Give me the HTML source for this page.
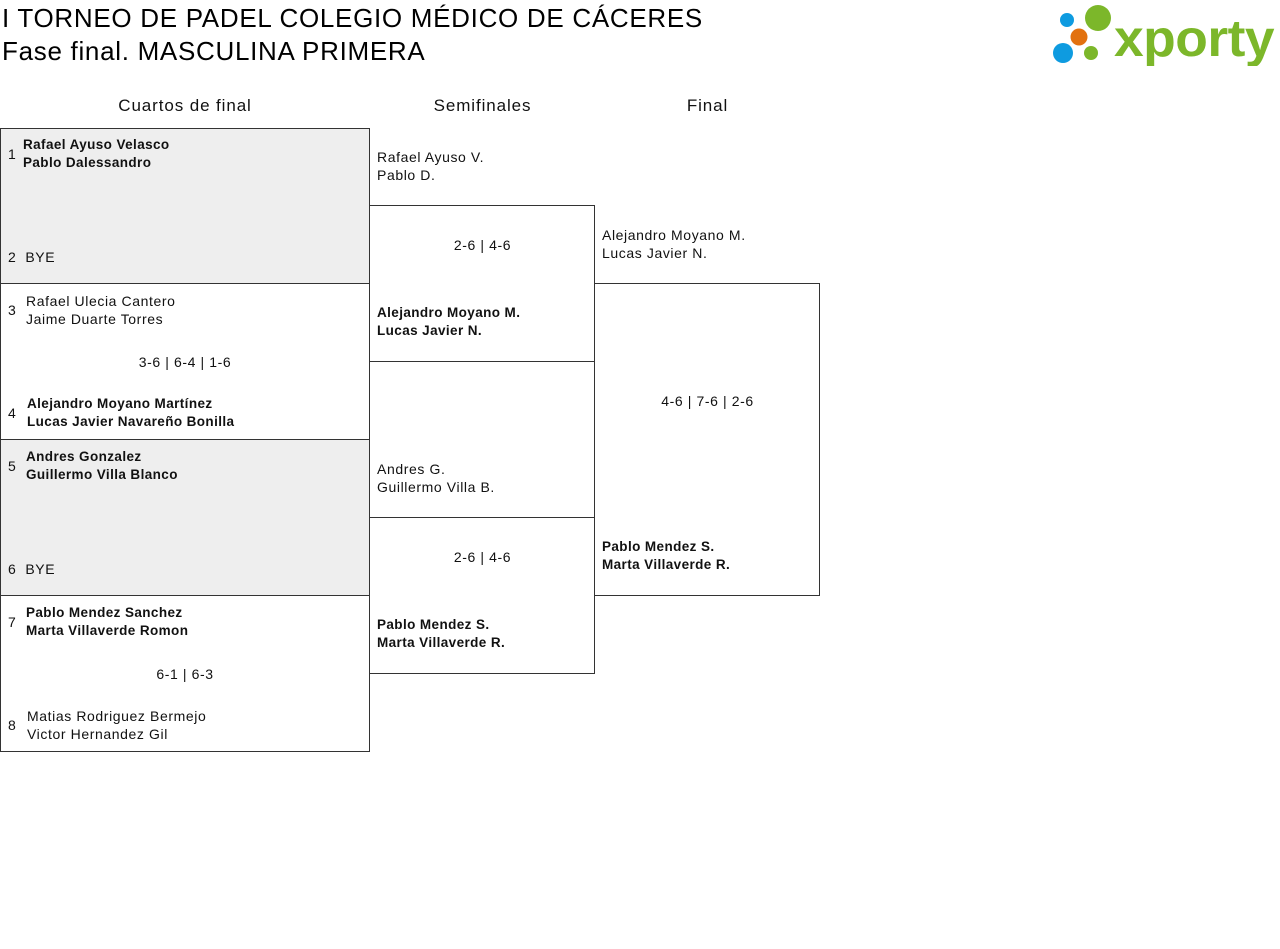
<!DOCTYPE html>
<html><head><meta charset="utf-8"><style>
body{margin:0;width:1280px;height:949px;background:#fff;font-family:"Liberation Sans",sans-serif;color:#111;position:relative;overflow:hidden}
.a{position:absolute;white-space:nowrap;font-size:14px;line-height:18px;letter-spacing:0.6px}
.b{font-weight:bold;font-size:13.5px;letter-spacing:0.4px}
.box{position:absolute;border:1px solid #333;box-sizing:border-box}
.g{background:#eee}
h1{position:absolute;margin:0;left:2px;font-size:26px;font-weight:normal;line-height:32px;color:#000;letter-spacing:0.7px}
.hd{position:absolute;font-size:17px;text-align:center;top:96px;letter-spacing:0.9px}
</style></head><body>
<h1 style="top:2px">I TORNEO DE PADEL COLEGIO MÉDICO DE CÁCERES</h1>
<h1 style="top:35px">Fase final. MASCULINA PRIMERA</h1>
<svg style="position:absolute;left:1050px;top:4px" width="226" height="62">
<circle cx="17" cy="16" r="7" fill="#0e9be0"/><circle cx="13" cy="49" r="10" fill="#0e9be0"/>
<circle cx="29" cy="33" r="8.5" fill="#e2710f"/><circle cx="48" cy="14" r="13" fill="#7cb72a"/><circle cx="41" cy="49" r="7" fill="#7cb72a"/>
<text x="64" y="52" font-family="Liberation Sans,sans-serif" font-weight="bold" font-size="52" fill="#7cb72a" letter-spacing="-0.5" textLength="160" lengthAdjust="spacingAndGlyphs">xporty</text></svg>
<div class="hd" style="left:0;width:370px">Cuartos de final</div>
<div class="hd" style="left:370px;width:225px">Semifinales</div>
<div class="hd" style="left:595px;width:225px">Final</div>

<div class="box g" style="left:0;top:128px;width:370px;height:156px"></div>
<div class="box" style="left:0;top:283px;width:370px;height:157px"></div>
<div class="box g" style="left:0;top:439px;width:370px;height:157px"></div>
<div class="box" style="left:0;top:595px;width:370px;height:157px"></div>
<div class="box" style="left:369px;top:205px;width:226px;height:157px"></div>
<div class="box" style="left:369px;top:517px;width:226px;height:157px"></div>
<div class="box" style="left:594px;top:283px;width:226px;height:313px"></div>

<div class="a" style="left:8px;top:145px">1</div><div class="a b" style="left:23px;top:136px">Rafael Ayuso Velasco<br>Pablo Dalessandro</div>
<div class="a" style="left:8px;top:248px">2&nbsp;&nbsp;BYE</div>
<div class="a" style="left:8px;top:301px">3</div><div class="a" style="left:26px;top:292px">Rafael Ulecia Cantero<br>Jaime Duarte Torres</div>
<div class="a" style="left:0;width:370px;text-align:center;top:353px">3-6 | 6-4 | 1-6</div>
<div class="a" style="left:8px;top:404px">4</div><div class="a b" style="left:27px;top:395px">Alejandro Moyano Martínez<br>Lucas Javier Navareño Bonilla</div>
<div class="a" style="left:8px;top:457px">5</div><div class="a b" style="left:26px;top:448px">Andres Gonzalez<br>Guillermo Villa Blanco</div>
<div class="a" style="left:8px;top:560px">6&nbsp;&nbsp;BYE</div>
<div class="a" style="left:8px;top:613px">7</div><div class="a b" style="left:26px;top:604px">Pablo Mendez Sanchez<br>Marta Villaverde Romon</div>
<div class="a" style="left:0;width:370px;text-align:center;top:665px">6-1 | 6-3</div>
<div class="a" style="left:8px;top:716px">8</div><div class="a" style="left:27px;top:707px">Matias Rodriguez Bermejo<br>Victor Hernandez Gil</div>

<div class="a" style="left:377px;top:148px">Rafael Ayuso V.<br>Pablo D.</div>
<div class="a" style="left:370px;width:225px;text-align:center;top:236px">2-6 | 4-6</div>
<div class="a b" style="left:377px;top:304px">Alejandro Moyano M.<br>Lucas Javier N.</div>
<div class="a" style="left:377px;top:460px">Andres G.<br>Guillermo Villa B.</div>
<div class="a" style="left:370px;width:225px;text-align:center;top:548px">2-6 | 4-6</div>
<div class="a b" style="left:377px;top:616px">Pablo Mendez S.<br>Marta Villaverde R.</div>

<div class="a" style="left:602px;top:226px">Alejandro Moyano M.<br>Lucas Javier N.</div>
<div class="a" style="left:595px;width:225px;text-align:center;top:392px">4-6 | 7-6 | 2-6</div>
<div class="a b" style="left:602px;top:538px">Pablo Mendez S.<br>Marta Villaverde R.</div>
</body></html>
